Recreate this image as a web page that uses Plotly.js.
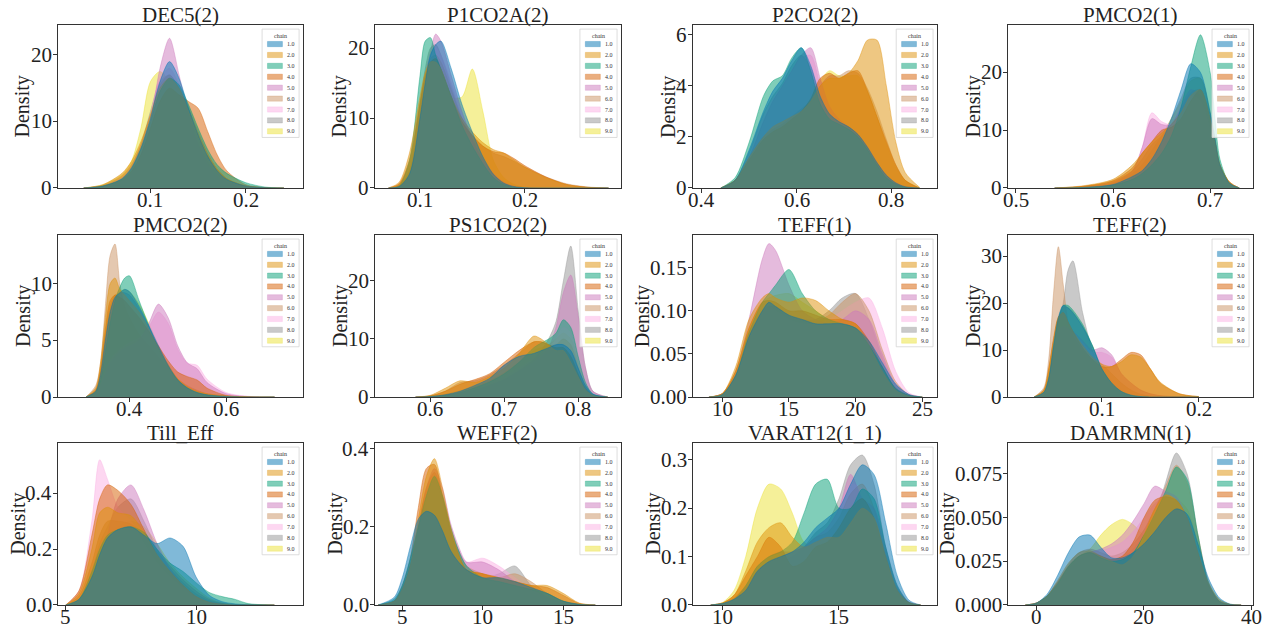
<!DOCTYPE html>
<html><head><meta charset="utf-8">
<script src="https://cdn.plot.ly/plotly-3.0.1.min.js"></script>
<style>html,body{margin:0;padding:0;background:#fff}#chart{width:1271px;height:630px}</style>
</head><body><div id="chart"></div>
<script>
// ---------- legend / series ----------
const chains = ["1.0","2.0","3.0","4.0","5.0","6.0","7.0","8.0","9.0"];
const chainColors = ["#0173B2","#DE8F05","#029E73","#D55E00","#CC78BC","#CA9161","#FBAFE4","#949494","#ECE133"];
const titles = ["DEC5(2)","P1CO2A(2)","P2CO2(2)","PMCO2(1)","PMCO2(2)","PS1CO2(2)","TEFF(1)","TEFF(2)","Till_Eff","WEFF(2)","VARAT12(1_1)","DAMRMN(1)"];

// ---------- DEC5(2) ----------
const dec5_x = [0.03,0.05,0.07,0.08,0.09,0.10,0.11,0.12,0.13,0.14,0.15,0.16,0.17,0.18,0.20,0.22,0.24];
const dec5_y = [
 [0,0.3,1.4,3,6,10.5,16,19,16.5,12,8,4.8,2.6,1.3,0.3,0.05,0],
 [0,0.5,2.2,4,7,11,15,16.5,15,11.5,8,5,2.8,1.4,0.3,0.05,0],
 [0,0.3,1.3,2.8,5.8,10,14.5,16.5,15.5,12.5,9,5.8,3.5,2.2,0.8,0.15,0],
 [0,0.3,1.2,2.5,5,9,13,15,14,13,12,8.5,5,2.6,0.5,0.05,0],
 [0,0.2,1,2.2,5,10,18,22.5,17,11,6.5,3.5,1.8,0.9,0.2,0.03,0],
 [0,0.4,1.8,3.5,6.5,11,15.5,17,15,12,8.5,5.2,2.8,1.4,0.3,0.05,0],
 [0,0.3,1.5,3,6,11,16.5,18,15.5,11.5,7.5,4.5,2.4,1.2,0.25,0.04,0],
 [0,0.3,1.5,3.2,6.5,11.5,16,17,15,11.5,8,5,2.8,1.4,0.3,0.05,0],
 [0,0.5,2,4,9,16,17.5,16,13,9.5,6.5,4,2.2,1.1,0.25,0.04,0]];
const dec5_xt = ["0.1","0.2"];
const dec5_yt = ["0","10","20"];

// ---------- P1CO2A(2) ----------
const p1co2a_x = [0.07,0.08,0.09,0.10,0.105,0.11,0.115,0.12,0.13,0.14,0.15,0.16,0.17,0.18,0.19,0.20,0.22,0.24,0.26,0.28];
const p1co2a_y = [
 [0,0.2,2,10,15,19,20.5,21,17,12,8,4.5,2,0.7,0.2,0.05,0,0,0,0],
 [0,0.8,5,13,16.5,18,18,17,13,10,8,6.5,5.5,5,4,3,1.5,0.5,0.1,0],
 [0,0.3,4,16,21,21.5,19,17,13,9,6,3.5,1.5,0.5,0.1,0,0,0,0,0],
 [0,0.6,4,12,16,18,18.5,17,13,9.5,7.5,6,5.2,5,4.2,3.2,1.6,0.5,0.1,0],
 [0,0.2,2,11,16,19.5,22,21,16,11,7,4,2,0.8,0.2,0.05,0,0,0,0],
 [0,0.5,3.5,12,16,18.5,19,18,14,10,7.5,6,5,4.5,3.8,3,1.6,0.6,0.15,0],
 [0,0.2,2,11,16,19,20,19,15,10.5,7,4.2,2.2,0.9,0.3,0.05,0,0,0,0],
 [0,0.3,2.5,12,17,20,20.5,19,14.5,10,6.5,4,2,0.8,0.2,0.05,0,0,0,0],
 [0,0.3,2.2,10,14,16.5,17,16,13,13,17,11,4,1.5,0.5,0.1,0,0,0,0]];
const p1co2a_xt = ["0.1","0.2"];
const p1co2a_yt = ["0","10","20"];

// ---------- P2CO2(2) ----------
const p2co2_x = [0.44,0.47,0.50,0.53,0.55,0.57,0.59,0.61,0.63,0.65,0.67,0.69,0.71,0.73,0.75,0.77,0.79,0.81,0.83,0.86];
const p2co2_y = [
 [0,0.3,1.5,3,3.8,4.3,5,5.5,4.8,3.6,2.9,2.6,2.4,2.1,1.6,1.0,0.5,0.2,0.05,0],
 [0,0.3,1.2,2,2.4,2.6,2.8,3,3.4,4,4.3,4.3,4.5,5,5.8,5.8,4,1.8,0.6,0.03],
 [0,0.4,1.8,3.6,4.2,4.4,5.1,5.5,4.6,3.3,2.7,2.5,2.3,2,1.5,0.9,0.4,0.15,0.03,0],
 [0,0.3,1.1,1.9,2.2,2.4,2.7,3,3.5,4.3,4.5,4.3,4.5,4.6,3.8,2.8,1.8,0.9,0.3,0],
 [0,0.2,1.2,2.6,3.4,4,4.6,5.2,5.5,4.3,3.2,2.7,2.4,2.1,1.6,1.0,0.5,0.2,0.05,0],
 [0,0.3,1.2,2,2.3,2.5,2.8,3.1,3.4,4,4.4,4.4,4.6,4.5,3.9,3,1.9,0.9,0.3,0],
 [0,0.25,1.3,2.8,3.5,4,4.6,5.1,5.2,4,3,2.6,2.3,2,1.5,0.9,0.45,0.2,0.05,0],
 [0,0.3,1.4,2.9,3.6,4.1,4.8,5.2,4.7,3.6,2.9,2.6,2.4,2.1,1.6,1.0,0.5,0.2,0.05,0],
 [0,0.3,1.2,2,2.3,2.5,2.7,3,3.5,4.2,4.6,4.4,4.4,4.4,3.8,2.8,1.7,0.8,0.3,0]];
const p2co2_xt = ["0.4","0.6","0.8"];
const p2co2_yt = ["0","2","4","6"];

// ---------- PMCO2(1) ----------
const pmco21_x = [0.54,0.57,0.60,0.62,0.63,0.64,0.65,0.66,0.67,0.68,0.69,0.70,0.705,0.71,0.72,0.73];
const pmco21_y = [
 [0,0.1,0.6,2,3,5,8,12,17,21.5,20,13,8.5,4,0.8,0],
 [0,0.4,1.5,4,6,8,9.5,11,13,16,17,12,8,4,1,0],
 [0,0.1,0.5,1.5,2.5,4,6,9,14,21,26.5,20,12,5,0.8,0],
 [0,0.3,1.3,3.5,6,8,10,10.5,12,15,17,12,8,4,1,0],
 [0,0.2,1,3,7,12,11,11,14,17,16,11,7,3.5,0.8,0],
 [0,0.3,1.2,3,5,7.5,9,11,13.5,16.5,17,12,8,4,1,0],
 [0,0.2,1,3,7,13,11.5,11,13,16,15,10,6.5,3,0.7,0],
 [0,0.2,0.8,2.5,4,6.5,9,12,15.5,19,19,13,8.5,4,0.8,0],
 [0,0.2,0.9,2.5,4,6.5,9,12,15,18.5,19,13,8.5,4,0.8,0]];
const pmco21_xt = ["0.5","0.6","0.7"];
const pmco21_yt = ["0","10","20"];

// ---------- PMCO2(2) ----------
const pmco22_x = [0.31,0.33,0.34,0.35,0.36,0.37,0.38,0.39,0.40,0.42,0.44,0.46,0.48,0.50,0.52,0.54,0.56,0.60,0.65,0.70];
const pmco22_y = [
 [0,0.5,2,5,7.5,8.8,9.2,9.5,9.3,8,6.3,4.5,2.8,1.5,0.8,0.4,0.2,0.05,0,0],
 [0,0.8,3,7,10,10.5,9.5,9,8.5,7.5,6,4.3,2.8,1.6,0.9,0.5,0.3,0.08,0.01,0],
 [0,0.4,1.5,4,6.5,8.5,9.7,10.5,10.7,8.5,6.3,4.3,2.7,1.5,0.8,0.4,0.2,0.05,0,0],
 [0,0.6,2.5,6,8.5,9,8.8,8.5,8,7,5.8,4.5,3.2,2.2,1.8,1.5,0.8,0.15,0.02,0],
 [0,0.3,1,2,3,3.5,4,4.3,4.5,5,6.5,8.2,7,4.5,3,2.5,1.3,0.3,0.03,0],
 [0,1,3,8,12.5,13.5,10,8,7,5.5,4.5,3.5,2.5,1.6,1,0.6,0.3,0.1,0.01,0],
 [0,0.3,1,2.2,3.2,3.8,4.2,4.5,4.8,5.2,6.2,7.5,6.5,4.2,3,2.8,1.6,0.4,0.05,0],
 [0,0.6,2.2,5.5,8,9,9.2,9.2,9,7.8,6.2,4.5,2.9,1.6,0.9,0.5,0.25,0.06,0,0],
 [0,0.5,2,5,7.5,8.8,9.3,9.5,9.3,8.2,6.5,4.6,2.9,1.6,0.9,0.5,0.25,0.06,0,0]];
const pmco22_xt = ["0.4","0.6"];
const pmco22_yt = ["0","5","10"];

// ---------- PS1CO2(2) ----------
const ps1co2_x = [0.58,0.60,0.62,0.64,0.66,0.68,0.70,0.72,0.74,0.75,0.76,0.77,0.78,0.79,0.80,0.81,0.82,0.84];
const ps1co2_y = [
 [0,0.1,0.4,1,2,3.2,5.5,7,7.5,8,8.5,9,9,8,5,2,0.5,0],
 [0,0.3,1.5,2.8,2.5,3.5,5,7.5,10.5,10,9,8,8,6,3.5,1.2,0.3,0],
 [0,0.1,0.3,0.8,1.6,2.6,4,6,8.5,9.3,10,11,13.3,12,7,2.5,0.5,0],
 [0,0.2,1,2.2,3,4,6,8,9.5,9.5,9,8.5,8.5,7,4,1.5,0.3,0],
 [0,0.1,0.3,0.7,1.2,2,3,4.5,6,7,8.5,12,18,21,14,5,1,0],
 [0,0.2,1,2.5,2.8,3.8,5.5,7.5,9.5,9.5,9,9,10,9,5,1.8,0.4,0],
 [0,0.1,0.4,0.9,1.5,2.4,3.5,5,6.5,7.5,8.5,10,12,11,7,2.5,0.5,0],
 [0,0.1,0.3,0.6,1,1.8,3,4.5,6.5,8,10,13,20,26,15,5,1,0],
 [0,0.1,0.5,1.1,1.8,2.8,4.2,6,8,8.5,9,10,11,10,6,2,0.4,0]];
const ps1co2_xt = ["0.6","0.7","0.8"];
const ps1co2_yt = ["0","10","20"];

// ---------- TEFF(1) ----------
const teff1_x = [9,10,11,12,13,13.5,14,15,16,17,18,19,20,21,22,23,24,25];
const teff1_y = [
 [0,0.003,0.025,0.07,0.1,0.11,0.105,0.095,0.09,0.085,0.085,0.085,0.08,0.065,0.04,0.015,0.003,0],
 [0,0.004,0.035,0.09,0.115,0.12,0.115,0.11,0.115,0.112,0.1,0.09,0.085,0.06,0.03,0.008,0.001,0],
 [0,0.003,0.025,0.075,0.11,0.12,0.13,0.148,0.12,0.1,0.09,0.085,0.08,0.06,0.035,0.01,0.002,0],
 [0,0.004,0.03,0.08,0.11,0.112,0.11,0.1,0.1,0.095,0.09,0.09,0.085,0.065,0.035,0.01,0.002,0],
 [0,0.004,0.03,0.09,0.16,0.178,0.17,0.13,0.1,0.09,0.085,0.09,0.1,0.09,0.05,0.015,0.003,0],
 [0,0.003,0.025,0.07,0.1,0.105,0.105,0.095,0.09,0.088,0.095,0.11,0.12,0.1,0.055,0.018,0.003,0],
 [0,0.003,0.025,0.07,0.1,0.105,0.1,0.09,0.085,0.085,0.09,0.1,0.11,0.115,0.08,0.03,0.005,0],
 [0,0.003,0.025,0.075,0.1,0.105,0.105,0.095,0.09,0.09,0.1,0.115,0.12,0.09,0.045,0.012,0.002,0],
 [0,0.004,0.03,0.08,0.11,0.115,0.118,0.12,0.11,0.1,0.09,0.085,0.08,0.06,0.03,0.008,0.001,0]];
const teff1_xt = ["10","15","20","25"];
const teff1_yt = ["0.00","0.05","0.10","0.15"];

// ---------- TEFF(2) ----------
const teff2_x = [0.03,0.04,0.045,0.05,0.055,0.06,0.065,0.07,0.08,0.09,0.10,0.11,0.12,0.13,0.14,0.15,0.16,0.18,0.20];
const teff2_y = [
 [0,1,4,11,17,19.5,19,18,15,11,6,3,1.2,0.4,0.1,0,0,0,0],
 [0,1.5,6,12,17,18,16,14,11,8.5,7,6.5,7.5,9,8.5,6,3.2,0.7,0.1],
 [0,1,4,10.5,16.5,19.5,19.5,18.5,15.5,11,6,3,1.2,0.4,0.1,0,0,0,0],
 [0,1.5,6,12.5,17,18,16,14,10.5,8,6.5,6.5,8,9.5,9,6,3,0.7,0.1],
 [0,1,4,10,14,15,14.5,14,12,10,10.5,9,5,3,1.5,0.7,0.3,0.05,0],
 [0,2,8,22,32,24,16,13,10,8,7,5,3,1.5,0.6,0.2,0.05,0,0],
 [0,1,4,10,14,15,14.5,13.5,11.5,9.5,9.5,8.5,5,3,1.5,0.7,0.3,0.05,0],
 [0,0.8,3,10,16,20,27,29,18,10,5,2.5,1,0.3,0.1,0,0,0,0],
 [0,1,4,11,16.5,19,19,18,15,11,6.5,3.3,1.4,0.5,0.1,0,0,0,0]];
const teff2_xt = ["0.1","0.2"];
const teff2_yt = ["0","10","20","30"];

// ---------- Till_Eff ----------
const till_x = [5,5.5,6,6.3,6.6,7,7.5,8,8.5,9,9.5,10,10.5,11,11.5,12,13];
const till_y = [
 [0,0.02,0.1,0.18,0.24,0.27,0.28,0.25,0.22,0.24,0.21,0.1,0.035,0.012,0.004,0.001,0],
 [0,0.04,0.2,0.33,0.35,0.33,0.32,0.26,0.18,0.12,0.07,0.03,0.01,0.003,0,0,0],
 [0,0.02,0.12,0.2,0.25,0.27,0.28,0.26,0.2,0.15,0.12,0.08,0.045,0.03,0.02,0.005,0],
 [0,0.05,0.25,0.38,0.43,0.41,0.36,0.27,0.18,0.12,0.07,0.03,0.01,0.003,0,0,0],
 [0,0.01,0.08,0.15,0.25,0.38,0.43,0.34,0.22,0.13,0.07,0.03,0.01,0.003,0,0,0],
 [0,0.03,0.15,0.25,0.3,0.3,0.29,0.25,0.19,0.14,0.09,0.05,0.02,0.006,0.001,0,0],
 [0,0.05,0.3,0.52,0.45,0.35,0.3,0.22,0.15,0.1,0.06,0.03,0.01,0.003,0,0,0],
 [0,0.02,0.12,0.22,0.28,0.35,0.38,0.3,0.2,0.13,0.08,0.04,0.015,0.005,0,0,0],
 [0,0.02,0.12,0.2,0.25,0.28,0.3,0.28,0.22,0.15,0.1,0.06,0.025,0.008,0.002,0,0]];
const till_xt = ["5","10"];
const till_yt = ["0.0","0.2","0.4"];

// ---------- WEFF(2) ----------
const weff_x = [3.5,4.5,5,5.5,6,6.5,7,7.5,8,8.5,9,10,11,12,13,14,15,16,17];
const weff_y = [
 [0,0.02,0.07,0.15,0.22,0.24,0.23,0.19,0.14,0.11,0.09,0.07,0.07,0.06,0.045,0.03,0.01,0.002,0],
 [0,0.01,0.04,0.1,0.22,0.33,0.375,0.3,0.2,0.13,0.09,0.08,0.07,0.06,0.05,0.05,0.03,0.005,0],
 [0,0.015,0.05,0.12,0.2,0.28,0.33,0.28,0.2,0.14,0.1,0.07,0.06,0.05,0.04,0.03,0.01,0.001,0],
 [0,0.01,0.05,0.12,0.25,0.35,0.36,0.28,0.19,0.13,0.09,0.08,0.07,0.06,0.05,0.045,0.025,0.004,0],
 [0,0.01,0.04,0.1,0.2,0.3,0.35,0.3,0.21,0.15,0.11,0.11,0.09,0.06,0.04,0.02,0.006,0,0],
 [0,0.01,0.04,0.1,0.2,0.3,0.34,0.28,0.2,0.14,0.1,0.08,0.07,0.08,0.06,0.03,0.01,0.002,0],
 [0,0.01,0.04,0.1,0.19,0.28,0.32,0.27,0.19,0.14,0.11,0.12,0.1,0.07,0.04,0.02,0.005,0,0],
 [0,0.01,0.04,0.1,0.19,0.28,0.32,0.27,0.19,0.13,0.09,0.07,0.08,0.1,0.05,0.02,0.005,0,0],
 [0,0.01,0.04,0.1,0.2,0.29,0.33,0.28,0.2,0.14,0.1,0.08,0.07,0.06,0.045,0.03,0.01,0.002,0]];
const weff_xt = ["5","10","15"];
const weff_yt = ["0.0","0.2","0.4"];

// ---------- VARAT12(1_1) ----------
const varat_x = [9.5,10,10.5,11,11.5,12,12.5,13,13.5,14,14.5,15,15.5,16,16.5,17,17.5,18,18.5];
const varat_y = [
 [0,0.003,0.012,0.03,0.07,0.09,0.1,0.11,0.13,0.16,0.18,0.2,0.25,0.29,0.27,0.17,0.06,0.01,0],
 [0,0.004,0.02,0.07,0.13,0.16,0.17,0.14,0.12,0.13,0.14,0.14,0.17,0.2,0.18,0.1,0.03,0.005,0],
 [0,0.003,0.012,0.04,0.08,0.1,0.11,0.13,0.19,0.25,0.26,0.2,0.2,0.24,0.22,0.12,0.04,0.005,0],
 [0,0.004,0.02,0.06,0.1,0.14,0.12,0.08,0.09,0.12,0.13,0.16,0.2,0.22,0.18,0.1,0.03,0.005,0],
 [0,0.003,0.012,0.035,0.07,0.09,0.1,0.11,0.12,0.14,0.16,0.2,0.27,0.22,0.2,0.12,0.04,0.006,0],
 [0,0.003,0.015,0.04,0.08,0.1,0.11,0.11,0.12,0.14,0.15,0.18,0.23,0.25,0.2,0.11,0.035,0.005,0],
 [0,0.003,0.012,0.035,0.07,0.09,0.1,0.11,0.12,0.14,0.16,0.2,0.25,0.24,0.2,0.11,0.035,0.005,0],
 [0,0.003,0.012,0.03,0.06,0.08,0.09,0.1,0.12,0.15,0.17,0.22,0.29,0.31,0.25,0.12,0.035,0.005,0],
 [0,0.005,0.03,0.1,0.2,0.25,0.24,0.19,0.13,0.12,0.13,0.15,0.18,0.17,0.12,0.06,0.02,0.003,0]];
const varat_xt = ["10","15"];
const varat_yt = ["0.0","0.1","0.2","0.3"];

// ---------- DAMRMN(1) ----------
const damrmn_x = [-2,0,2,4,6,8,10,12,14,16,18,20,22,24,26,28,30,32,34,36,38];
const damrmn_y = [
 [0,0.001,0.006,0.017,0.03,0.039,0.04,0.033,0.027,0.027,0.03,0.035,0.042,0.05,0.055,0.052,0.035,0.015,0.004,0.0005,0],
 [0,0.001,0.005,0.014,0.024,0.03,0.031,0.028,0.025,0.023,0.028,0.04,0.055,0.063,0.06,0.05,0.03,0.012,0.003,0.0004,0],
 [0,0.001,0.005,0.012,0.022,0.028,0.03,0.027,0.025,0.026,0.03,0.04,0.052,0.065,0.079,0.072,0.04,0.012,0.002,0.0002,0],
 [0,0.001,0.005,0.013,0.022,0.028,0.03,0.028,0.026,0.028,0.036,0.05,0.06,0.062,0.06,0.05,0.03,0.011,0.002,0.0002,0],
 [0,0.001,0.004,0.011,0.02,0.027,0.03,0.032,0.035,0.04,0.048,0.058,0.068,0.065,0.062,0.05,0.03,0.011,0.002,0.0002,0],
 [0,0.001,0.005,0.013,0.023,0.03,0.032,0.03,0.028,0.03,0.035,0.043,0.055,0.068,0.08,0.07,0.04,0.013,0.002,0.0002,0],
 [0,0.001,0.004,0.011,0.02,0.027,0.03,0.031,0.033,0.036,0.042,0.05,0.058,0.062,0.062,0.05,0.03,0.011,0.002,0.0002,0],
 [0,0.001,0.005,0.012,0.022,0.028,0.03,0.028,0.026,0.027,0.032,0.04,0.05,0.07,0.087,0.075,0.04,0.012,0.002,0.0002,0],
 [0,0.001,0.005,0.01,0.02,0.028,0.032,0.04,0.046,0.049,0.046,0.04,0.04,0.05,0.06,0.055,0.035,0.013,0.003,0.0003,0]];
const damrmn_xt = ["0","20","40"];
const damrmn_yt = ["0.000","0.025","0.050","0.075"];

// ---------- panel assembly ----------
const panels = [
 {x:dec5_x, y:dec5_y, xt:dec5_xt, yt:dec5_yt, xr:[0.003,0.26], yr:[0,24.5]},
 {x:p1co2a_x, y:p1co2a_y, xt:p1co2a_xt, yt:p1co2a_yt, xr:[0.057,0.292], yr:[0,23.3]},
 {x:p2co2_x, y:p2co2_y, xt:p2co2_xt, yt:p2co2_yt, xr:[0.381,0.897], yr:[0,6.39]},
 {x:pmco21_x, y:pmco21_y, xt:pmco21_xt, yt:pmco21_yt, xr:[0.492,0.744], yr:[0,28.2]},
 {x:pmco22_x, y:pmco22_y, xt:pmco22_xt, yt:pmco22_yt, xr:[0.252,0.759], yr:[0,14.3]},
 {x:ps1co2_x, y:ps1co2_y, xt:ps1co2_xt, yt:ps1co2_yt, xr:[0.525,0.858], yr:[0,27.9]},
 {x:teff1_x, y:teff1_y, xt:teff1_xt, yt:teff1_yt, xr:[7.8,26.1], yr:[0,0.188]},
 {x:teff2_x, y:teff2_y, xt:teff2_xt, yt:teff2_yt, xr:[0.003,0.256], yr:[0,34.5]},
 {x:till_x, y:till_y, xt:till_xt, yt:till_yt, xr:[4.7,14.1], yr:[0,0.58]},
 {x:weff_x, y:weff_y, xt:weff_xt, yt:weff_yt, xr:[3.3,18.6], yr:[0,0.415]},
 {x:varat_x, y:varat_y, xt:varat_xt, yt:varat_yt, xr:[8.74,19.2], yr:[0,0.335]},
 {x:damrmn_x, y:damrmn_y, xt:damrmn_xt, yt:damrmn_yt, xr:[-5.2,40.2], yr:[0,0.0927]}
];

const colDom = [[0.0456,0.2384],[0.2950,0.4886],[0.5452,0.7372],[0.7931,0.9858]];
const rowDom = [[0.7016,0.9603],[0.3698,0.6270],[0.0397,0.2968]];
const FONT = "Liberation Serif, Times New Roman, serif";
const TICK_SIZE = 21;

function rgba(hex, a){
  const r=parseInt(hex.slice(1,3),16), g=parseInt(hex.slice(3,5),16), b=parseInt(hex.slice(5,7),16);
  return `rgba(${r},${g},${b},${a})`;
}
const measureCtx = document.createElement("canvas").getContext("2d");
measureCtx.font = TICK_SIZE + "px 'Liberation Serif'";
function textW(t){ return measureCtx.measureText(t).width; }

const traces = [];
const layout = {
  width:1271, height:630, margin:{l:0,r:0,t:0,b:0},
  paper_bgcolor:"#fff", plot_bgcolor:"#fff", showlegend:false,
  font:{family:FONT, color:"#222"}, shapes:[], annotations:[]
};
const tickFont = {family:FONT, size:TICK_SIZE, color:"#222"};

panels.forEach((p,i)=>{
  const s = i===0 ? "" : String(i+1);
  const col = i%4, row = Math.floor(i/4);
  for(let c=8;c>=0;c--){
    traces.push({
      x:p.x, y:p.y[c], xaxis:"x"+s, yaxis:"y"+s, type:"scatter", mode:"lines",
      line:{shape:"spline", smoothing:0.8, color:rgba(chainColors[c],0.5), width:0.8},
      fill:"tozeroy", fillcolor:rgba(chainColors[c],0.5),
      hoverinfo:"skip", showlegend:false
    });
  }
  const axBase = {showline:true, mirror:true, linecolor:"#333", linewidth:1,
    ticks:"outside", ticklen:4, tickwidth:1, tickcolor:"#333", showticklabels:false,
    showgrid:false, zeroline:false, fixedrange:true};
  layout["xaxis"+s] = Object.assign({}, axBase, {
    domain:colDom[col], anchor:"y"+s, range:p.xr,
    tickmode:"array", tickvals:p.xt.map(parseFloat)});
  layout["yaxis"+s] = Object.assign({}, axBase, {
    domain:rowDom[row], anchor:"x"+s, range:p.yr,
    tickmode:"array", tickvals:p.yt.map(parseFloat)});
  const xd = "x"+s+" domain", yd = "y"+s+" domain";
  // tick labels
  p.xt.forEach(t=>{
    layout.annotations.push({xref:"x"+s, yref:yd, x:parseFloat(t), y:0, xanchor:"center", yanchor:"top",
      yshift:1, borderpad:0, text:t, showarrow:false, font:tickFont});
  });
  let maxW = 0;
  p.yt.forEach(t=>{
    maxW = Math.max(maxW, textW(t));
    layout.annotations.push({xref:xd, yref:"y"+s, x:0, y:parseFloat(t), xanchor:"right", yanchor:"middle",
      xshift:-5, borderpad:0, text:t, showarrow:false, font:tickFont});
  });
  // y label
  layout.annotations.push({xref:xd, yref:yd, x:0, y:0.5, xanchor:"center", yanchor:"middle",
    xshift:-(5 + maxW + 9), textangle:-90, text:"Density", showarrow:false, borderpad:0,
    font:{family:FONT, size:20, color:"#222"}});
  // title
  layout.annotations.push({xref:xd, yref:yd, x:0.5, y:1, xanchor:"center", yanchor:"bottom",
    text:titles[i], showarrow:false, borderpad:0, font:{family:FONT, size:21, color:"#222"}, yshift:-3});
  // legend box
  layout.shapes.push({type:"rect", xref:xd, yref:yd, x0:0.833, x1:0.984, y0:0.31, y1:0.975,
    fillcolor:"rgba(255,255,255,0.8)", line:{color:"#d4d4d4", width:0.8}});
  layout.annotations.push({xref:xd, yref:yd, x:0.9085, y:0.935, xanchor:"center", yanchor:"middle",
    text:"chain", showarrow:false, font:{family:FONT, size:6, color:"#333"}});
  chains.forEach((lab,c)=>{
    const yc = 0.883 - 0.0669*c;
    layout.shapes.push({type:"rect", xref:xd, yref:yd, x0:0.855, x1:0.916, y0:yc-0.016, y1:yc+0.016,
      fillcolor:rgba(chainColors[c],0.5), line:{color:rgba(chainColors[c],0.5), width:0.5}});
    layout.annotations.push({xref:xd, yref:yd, x:0.928, y:yc, xanchor:"left", yanchor:"middle",
      text:lab, showarrow:false, font:{family:FONT, size:6, color:"#333"}});
  });
});

Plotly.newPlot("chart", traces, layout, {staticPlot:true, displayModeBar:false});
</script>
</body></html>
